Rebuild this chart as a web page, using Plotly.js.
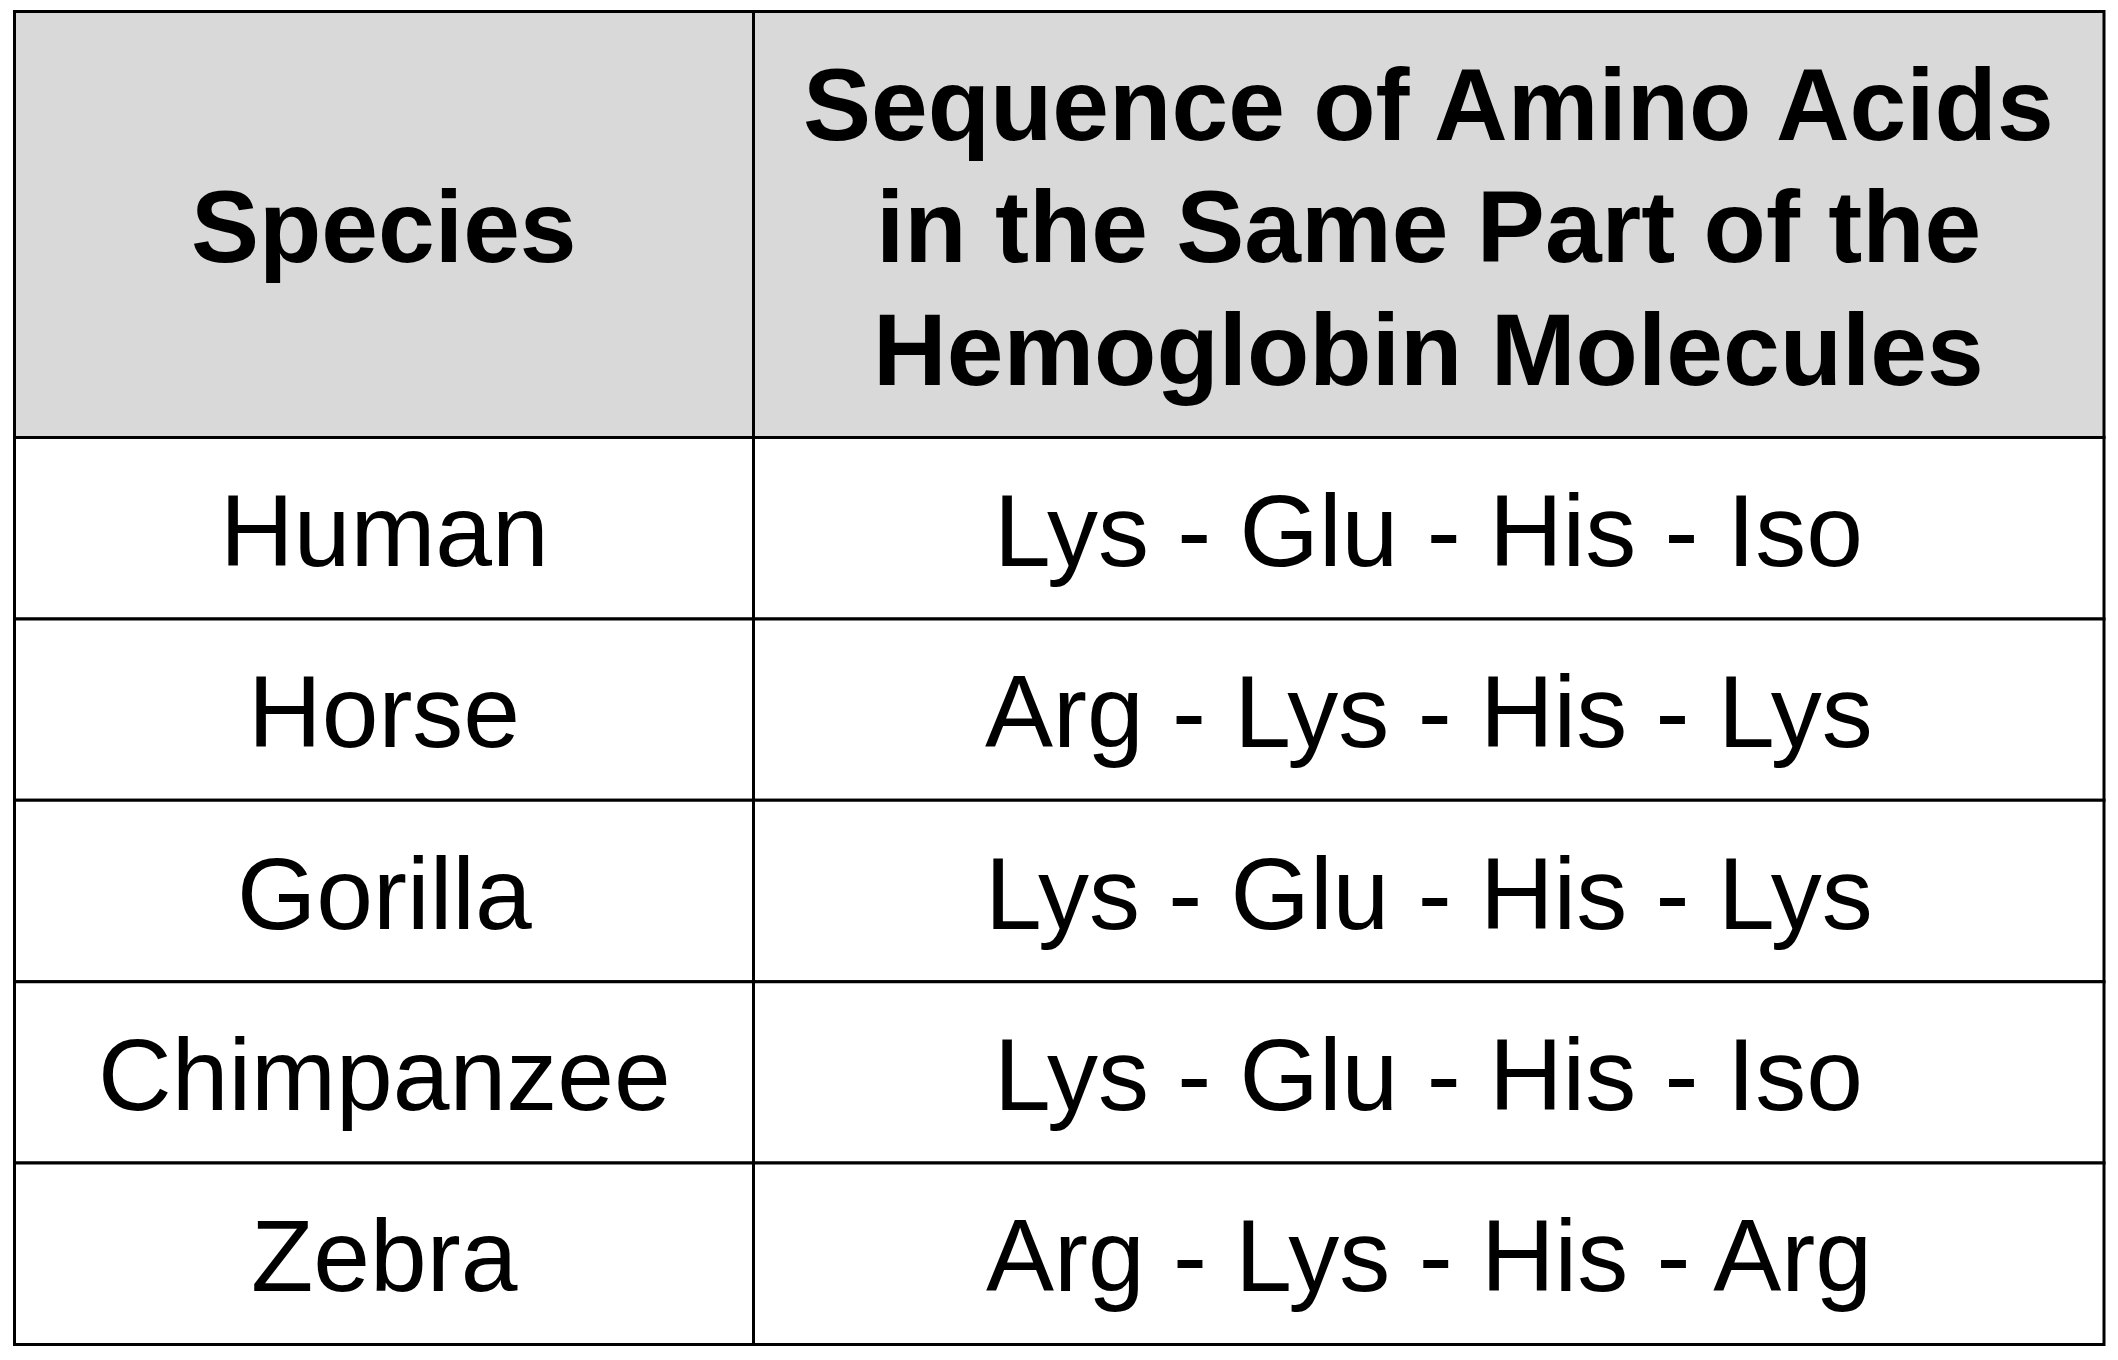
<!DOCTYPE html>
<html>
<head>
<meta charset="utf-8">
<script src="https://cdn.plot.ly/plotly-3.0.1.min.js"></script>
<style>
  html, body { margin: 0; padding: 0; background: #ffffff; }
  #chart { width: 2118px; height: 1360px; }
</style>
</head>
<body>
<div id="chart"></div>
<script>
// ---- data ----
const headerLabels = ["Species", "Sequence of Amino Acids<br>in the Same Part of the<br>Hemoglobin Molecules"];
const species = ["Human", "Horse", "Gorilla", "Chimpanzee", "Zebra"];
const sequences = [
  "Lys - Glu - His - Iso",
  "Arg - Lys - His - Lys",
  "Lys - Glu - His - Lys",
  "Lys - Glu - His - Iso",
  "Arg - Lys - His - Arg"
];
const columns = [species, sequences];

// ---- layout constants (pixel-unit axes) ----
const FIG_W = 2118, FIG_H = 1360;
const tblX0 = 14.5, tblY0 = 11.5;
const colWidths = [739, 1350.5];
const headerH = 426;
const rowH = 181.4;
const lineGap = 122.5;
const textShift = 2.5;
const FONT = "Liberation Sans, Arial, sans-serif";
const FS = 102;
const BORDER = { color: "#000000", width: 3 };

const colEdges = [tblX0];
colWidths.forEach(w => colEdges.push(colEdges[colEdges.length - 1] + w));
const rowEdges = [tblY0, tblY0 + headerH];
species.forEach(() => rowEdges.push(rowEdges[rowEdges.length - 1] + rowH));

const shapes = [];
const annotations = [];

// header cells
headerLabels.forEach((label, c) => {
  shapes.push({
    type: "rect", xref: "x", yref: "y",
    x0: colEdges[c], x1: colEdges[c + 1], y0: rowEdges[0], y1: rowEdges[1],
    fillcolor: "#d9d9d9", line: BORDER, layer: "below"
  });
  const lines = label.split("<br>");
  const cy = (rowEdges[0] + rowEdges[1]) / 2 + textShift;
  lines.forEach((ln, i) => {
    const n = lines.length;
    annotations.push({
      xref: "x", yref: "y",
      x: (colEdges[c] + colEdges[c + 1]) / 2,
      y: cy + (i - (n - 1) / 2) * lineGap,
      text: ln, showarrow: false, xanchor: "center", yanchor: "middle",
      font: { family: FONT, size: FS, color: "#000000", weight: "bold" }
    });
  });
});

// body cells
columns.forEach((col, c) => {
  col.forEach((val, r) => {
    shapes.push({
      type: "rect", xref: "x", yref: "y",
      x0: colEdges[c], x1: colEdges[c + 1], y0: rowEdges[r + 1], y1: rowEdges[r + 2],
      fillcolor: "#ffffff", line: BORDER, layer: "below"
    });
    annotations.push({
      xref: "x", yref: "y",
      x: (colEdges[c] + colEdges[c + 1]) / 2,
      y: (rowEdges[r + 1] + rowEdges[r + 2]) / 2 + textShift,
      text: val, showarrow: false, xanchor: "center", yanchor: "middle",
      font: { family: FONT, size: FS, color: "#000000" }
    });
  });
});

const layout = {
  width: FIG_W,
  height: FIG_H,
  margin: { l: 0, r: 0, t: 0, b: 0, pad: 0 },
  paper_bgcolor: "#ffffff",
  plot_bgcolor: "#ffffff",
  showlegend: false,
  xaxis: { range: [0, FIG_W], visible: false, showgrid: false, zeroline: false, fixedrange: true },
  yaxis: { range: [FIG_H, 0], visible: false, showgrid: false, zeroline: false, fixedrange: true },
  shapes: shapes,
  annotations: annotations
};

Plotly.newPlot("chart", [], layout, { displayModeBar: false, staticPlot: true });
</script>
</body>
</html>
